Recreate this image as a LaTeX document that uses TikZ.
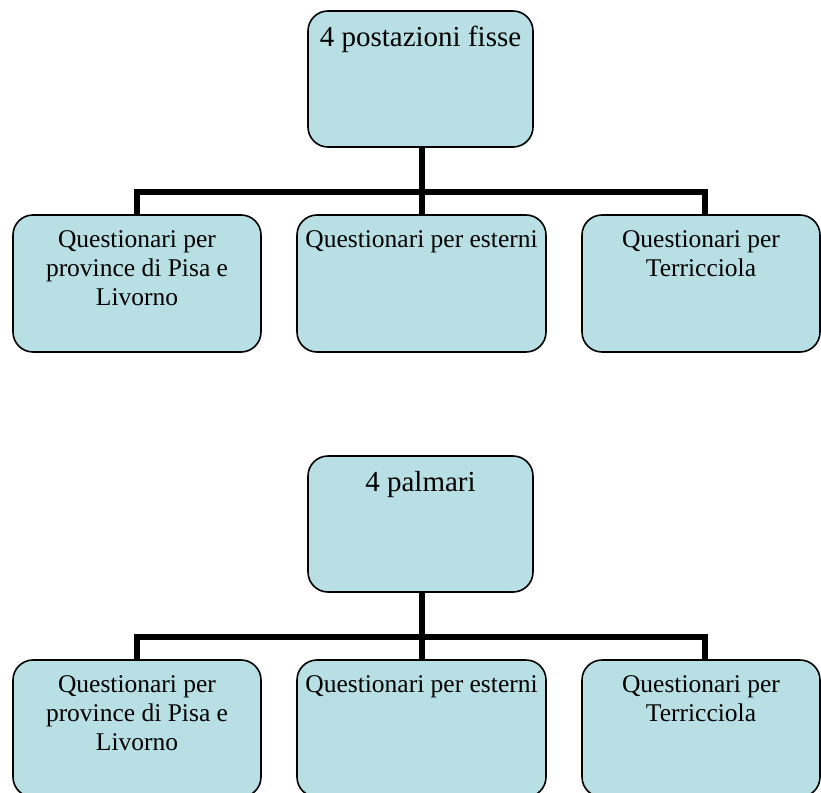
\documentclass[tikz,border=0pt]{standalone}
\usepackage{fontspec}
\setmainfont{Liberation Serif}
\definecolor{boxfill}{RGB}{184,223,227}
\tikzset{
  orgbox/.style={draw=black, line width=1.6pt, fill=boxfill, rounded corners=20pt, inner sep=0pt},
  conn/.style={draw=black, line width=6.5pt},
  toptext/.style={font=\fontsize{29}{33}\selectfont, anchor=base, inner sep=0pt},
  childtext/.style={font=\fontsize{25.5}{29.3}\selectfont, align=center, anchor=north, inner sep=0pt},
}
\begin{document}
\begin{tikzpicture}[x=1pt, y=-1pt]
\useasboundingbox (0,0) rectangle (821,792);
% ---------- group 1 ----------
\begin{scope}
\node[orgbox, minimum width=225pt, minimum height=136pt] (t1) at (420.5,79) {};
\node[orgbox, minimum width=248pt, minimum height=137pt] (a1) at (137,283.5) {};
\node[orgbox, minimum width=249pt, minimum height=137pt] (b1) at (421.5,283.5) {};
\node[orgbox, minimum width=238pt, minimum height=137pt] (c1) at (701,283.5) {};
\coordinate (bar1) at (422,192);
\draw[conn] (t1.south -| bar1) -- (bar1) -- (b1.north -| bar1);
\draw[conn] (a1.north) -- (a1.north |- bar1) -- ([xshift=4pt]c1.north |- bar1) -- ([xshift=4pt]c1.north);
\node[toptext] (t1txt) at ([yshift=-36pt]t1.north) {4 postazioni fisse};
\node[childtext] (a1txt) at ([yshift=-16pt]a1.north) {Questionari per\\province di Pisa e\\Livorno};
\node[childtext] (b1txt) at ([yshift=-16pt]b1.north) {Questionari per esterni};
\node[childtext] (c1txt) at ([yshift=-16pt]c1.north) {Questionari per\\Terricciola};
\end{scope}
% ---------- group 2 ----------
\begin{scope}[yshift=-445pt]
\node[orgbox, minimum width=225pt, minimum height=136pt] (t2) at (420.5,79) {};
\node[orgbox, minimum width=248pt, minimum height=137pt] (a2) at (137,283.5) {};
\node[orgbox, minimum width=249pt, minimum height=137pt] (b2) at (421.5,283.5) {};
\node[orgbox, minimum width=238pt, minimum height=137pt] (c2) at (701,283.5) {};
\coordinate (bar2) at (422,192);
\draw[conn] (t2.south -| bar2) -- (bar2) -- (b2.north -| bar2);
\draw[conn] (a2.north) -- (a2.north |- bar2) -- ([xshift=4pt]c2.north |- bar2) -- ([xshift=4pt]c2.north);
\node[toptext] (t2txt) at ([yshift=-36pt]t2.north) {4 palmari};
\node[childtext] (a2txt) at ([yshift=-16pt]a2.north) {Questionari per\\province di Pisa e\\Livorno};
\node[childtext] (b2txt) at ([yshift=-16pt]b2.north) {Questionari per esterni};
\node[childtext] (c2txt) at ([yshift=-16pt]c2.north) {Questionari per\\Terricciola};
\end{scope}
\end{tikzpicture}
\end{document}
